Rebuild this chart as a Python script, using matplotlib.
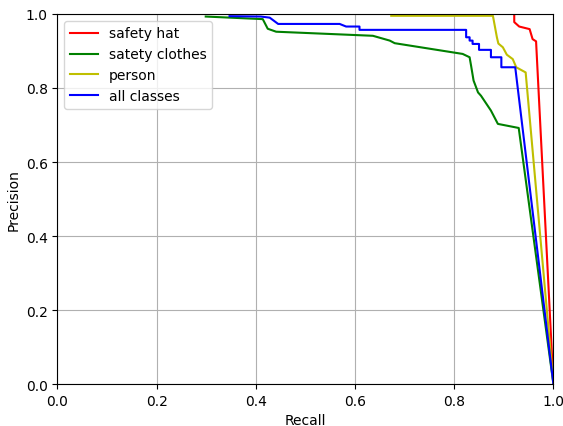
import matplotlib
matplotlib.use('Agg')
import matplotlib.pyplot as plt

# recall / precision
hat_recall = [0.921, 0.921, 0.931, 0.952, 0.958, 0.965, 1.0]
hat_precision = [1.0, 0.978, 0.966, 0.959, 0.932, 0.926, 0.0]

clothes_recall = [0.299, 0.414, 0.424, 0.441, 0.636, 0.67, 0.68, 0.817, 0.831, 0.834,
                  0.839, 0.848, 0.854, 0.874, 0.888, 0.930, 1.0]
clothes_precision = [0.993, 0.986, 0.96, 0.952, 0.941, 0.928, 0.921, 0.892, 0.883, 0.86,
                     0.82, 0.788, 0.779, 0.739, 0.703, 0.692, 0.0]

person_recall = [0.673, 0.878, 0.886, 0.889, 0.898, 0.906, 0.918, 0.925, 0.944, 1.0]
person_precision = [0.995, 0.995, 0.937, 0.92, 0.91, 0.89, 0.878, 0.856, 0.842, 0.0]

all_recall = [0.347, 0.41, 0.428, 0.445, 0.569, 0.582, 0.609, 0.609, 0.824, 0.824, 0.831,
              0.831, 0.837, 0.837, 0.85, 0.85, 0.874, 0.874, 0.895, 0.895, 0.923, 1.0]
all_precision = [0.994, 0.993, 0.99, 0.973, 0.973, 0.966, 0.966, 0.957, 0.957, 0.937, 0.937,
                 0.928, 0.928, 0.919, 0.919, 0.903, 0.903, 0.883, 0.883, 0.856, 0.856, 0.0]

fig = plt.figure(figsize=(5.63, 4.27), dpi=100)
ax = fig.add_axes([0.102, 0.098, 0.881, 0.867])
ax.plot(hat_recall, hat_precision, color='r', label='safety hat')
ax.plot(clothes_recall, clothes_precision, color='g', label='satety clothes')
ax.plot(person_recall, person_precision, color='y', label='person')
ax.plot(all_recall, all_precision, color='b', label='all classes')
ax.set_xlim(0, 1)
ax.set_ylim(0, 1)
ax.set_xlabel('Recall')
ax.set_ylabel('Precision')
ax.grid(True)
ax.legend(loc='upper left')
fig.savefig('out.png', dpi=100)
